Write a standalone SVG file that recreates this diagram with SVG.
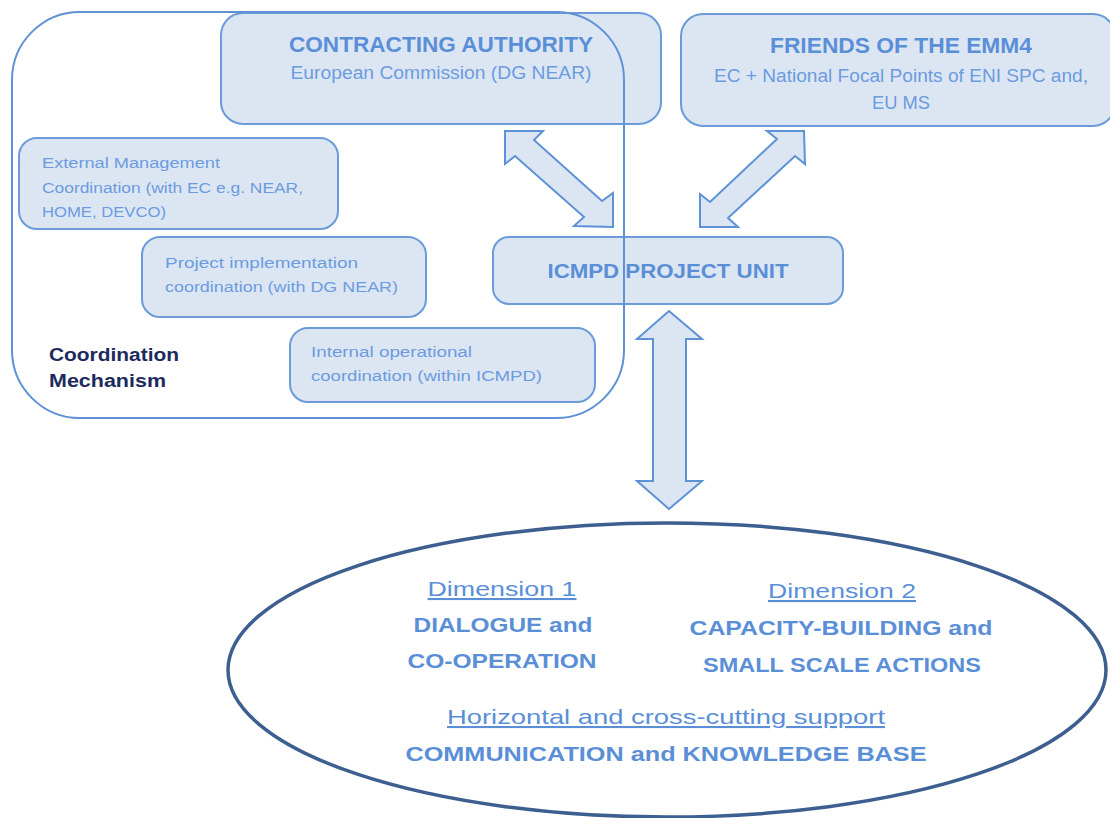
<svg xmlns="http://www.w3.org/2000/svg" width="1110" height="818" viewBox="0 0 1110 818">
<style>
.box{fill:#dce6f2;stroke:#6b9bd8;stroke-width:2}
.arrow{fill:#dce6f2;stroke:#5e92d6;stroke-width:2;stroke-linejoin:miter}
.t{font-family:"Liberation Sans",Arial,sans-serif;fill:#5a8fd8}
.b{font-weight:bold}
.s{fill:#6b9be0}
.nav{fill:#1c2a5e;font-weight:bold}
.c{text-anchor:middle}
.u{text-decoration:underline}
</style>
<rect width="1110" height="818" fill="#ffffff"/>

<g id="contracting-authority">
<rect class="box" x="221" y="13" width="440" height="111" rx="22"/>
<text class="t b c" x="441" y="52" font-size="21.5" textLength="304" lengthAdjust="spacingAndGlyphs">CONTRACTING AUTHORITY</text>
<text class="t s c" x="441" y="79" font-size="17.5" textLength="301" lengthAdjust="spacingAndGlyphs">European Commission (DG NEAR)</text>
</g>

<g id="friends-emm4">
<rect class="box" x="681" y="14" width="434" height="112" rx="22"/>
<text class="t b c" x="901" y="53" font-size="21.5" textLength="262" lengthAdjust="spacingAndGlyphs">FRIENDS OF THE EMM4</text>
<text class="t s c" x="901" y="82" font-size="17.5" textLength="374" lengthAdjust="spacingAndGlyphs">EC + National Focal Points of ENI SPC and,</text>
<text class="t s c" x="901" y="109" font-size="17.5" textLength="58" lengthAdjust="spacingAndGlyphs">EU MS</text>
</g>

<g id="external-management">
<rect class="box" x="19" y="138" width="319" height="91" rx="18"/>
<text class="t s" x="42" y="168" font-size="15.5" textLength="178" lengthAdjust="spacingAndGlyphs">External Management</text>
<text class="t s" x="42" y="193" font-size="15.5" textLength="261" lengthAdjust="spacingAndGlyphs">Coordination (with EC e.g. NEAR,</text>
<text class="t s" x="42" y="217" font-size="15.5" textLength="124" lengthAdjust="spacingAndGlyphs">HOME, DEVCO)</text>
</g>

<g id="project-implementation">
<rect class="box" x="142" y="237" width="284" height="80" rx="18"/>
<text class="t s" x="165" y="268" font-size="15.5" textLength="193" lengthAdjust="spacingAndGlyphs">Project implementation</text>
<text class="t s" x="165" y="292" font-size="15.5" textLength="233" lengthAdjust="spacingAndGlyphs">coordination (with DG NEAR)</text>
</g>

<g id="internal-operational">
<rect class="box" x="290" y="328" width="305" height="74" rx="18"/>
<text class="t s" x="311" y="357" font-size="15.5" textLength="161" lengthAdjust="spacingAndGlyphs">Internal operational</text>
<text class="t s" x="311" y="381" font-size="15.5" textLength="231" lengthAdjust="spacingAndGlyphs">coordination (within ICMPD)</text>
</g>

<g id="icmpd-project-unit">
<rect class="box" x="493" y="237" width="350" height="67" rx="16"/>
<text class="t b c" x="668" y="278" font-size="21" textLength="241" lengthAdjust="spacingAndGlyphs">ICMPD PROJECT UNIT</text>
</g>

<g id="coordination-mechanism">
<rect x="12" y="12" width="612" height="406" rx="68" ry="68" fill="none" stroke="#5e92d6" stroke-width="2"/>
<text class="t nav" x="49" y="361" font-size="18" textLength="130" lengthAdjust="spacingAndGlyphs">Coordination</text>
<text class="t nav" x="49" y="387" font-size="18" textLength="117" lengthAdjust="spacingAndGlyphs">Mechanism</text>
</g>

<g id="connectors">
<polygon class="arrow" points="505,131 543,131 534,140 602,201 613,193 613,227 574,226 584,217 515,156 505,164"/>
<polygon class="arrow" points="804,131 805,164 795,156 728,218 738,227 700,227 700,194 710,202 777,139 767,131"/>
<polygon class="arrow" points="669,311 702,339 686,339 686,481 702,481 669,509 637,481 653,481 653,339 637,339"/>
</g>

<g id="dimensions">
<ellipse cx="667" cy="670" rx="439" ry="147" fill="#ffffff" stroke="#3d5f8f" stroke-width="3.5"/>
<text class="t c u" x="502" y="596" font-size="21" textLength="149" lengthAdjust="spacingAndGlyphs">Dimension 1</text>
<text class="t b c" x="503" y="632" font-size="21" textLength="179" lengthAdjust="spacingAndGlyphs">DIALOGUE and</text>
<text class="t b c" x="502" y="668" font-size="21" textLength="189" lengthAdjust="spacingAndGlyphs">CO-OPERATION</text>
<text class="t c u" x="842" y="598" font-size="21" textLength="148" lengthAdjust="spacingAndGlyphs">Dimension 2</text>
<text class="t b c" x="841" y="635" font-size="21" textLength="303" lengthAdjust="spacingAndGlyphs">CAPACITY-BUILDING and</text>
<text class="t b c" x="842" y="672" font-size="21" textLength="278" lengthAdjust="spacingAndGlyphs">SMALL SCALE ACTIONS</text>
<text class="t c u" x="666" y="724" font-size="21" textLength="438" lengthAdjust="spacingAndGlyphs">Horizontal and cross-cutting support</text>
<text class="t b c" x="666" y="761" font-size="21" textLength="521" lengthAdjust="spacingAndGlyphs">COMMUNICATION and KNOWLEDGE BASE</text>
</g>
</svg>
